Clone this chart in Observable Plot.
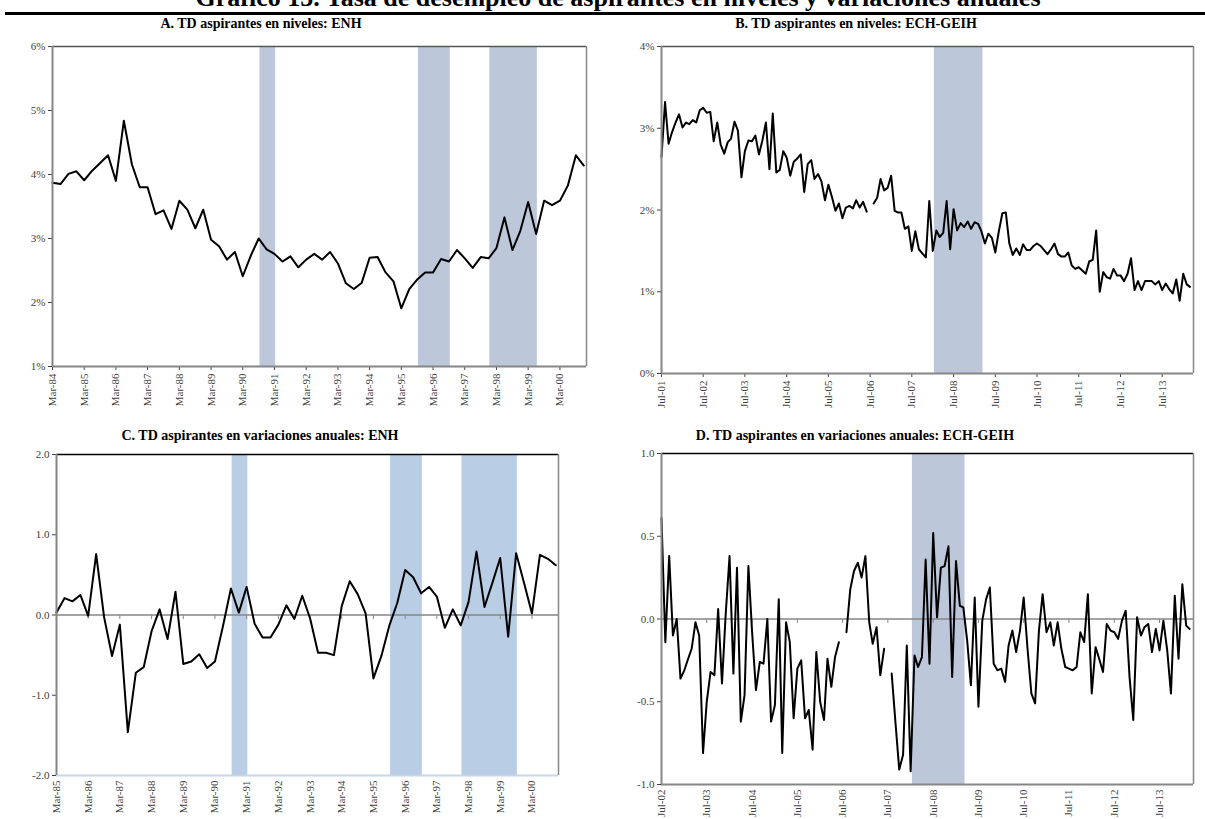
<!DOCTYPE html>
<html>
<head>
<meta charset="utf-8">
<script src="https://cdn.jsdelivr.net/npm/d3@7"></script>
<script src="https://cdn.jsdelivr.net/npm/@observablehq/plot@0.6"></script>
<style>
  body { margin: 0; background: #fff; }
  #page { position: relative; width: 1205px; height: 819px; overflow: hidden; background: #fff;
          font-family: "Liberation Serif", "Times New Roman", serif; }
  .ttl { position: absolute; font-weight: bold; font-size: 14px; line-height: 16px; white-space: nowrap;
         transform: translateX(-50%); color: #000; }
  .panel { position: absolute; }
</style>
</head>
<body>
<div id="page">
  <div class="ttl" style="left:618px; top:-15px; font-size:26px; line-height:26px;">Gráfico 15. Tasa de desempleo de aspirantes en niveles y variaciones anuales</div>
  <div style="position:absolute; left:5px; top:12px; width:1200px; height:3px; background:#000;"></div>
  <div class="ttl" style="left:261px; top:16px;">A. TD aspirantes en niveles: ENH</div>
  <div class="ttl" style="left:856px; top:16px;">B. TD aspirantes en niveles: ECH-GEIH</div>
  <div class="ttl" style="left:260px; top:428px;">C. TD aspirantes en variaciones anuales: ENH</div>
  <div class="ttl" style="left:855px; top:428px;">D. TD aspirantes en variaciones anuales: ECH-GEIH</div>
  <div class="panel" id="pA" style="left:0px; top:30px;"></div>
  <div class="panel" id="pB" style="left:600px; top:30px;"></div>
  <div class="panel" id="pC" style="left:0px; top:440px;"></div>
  <div class="panel" id="pD" style="left:600px; top:440px;"></div>
</div>
<script>
// ---------- ENH, quarterly (Mar, Jun, Sep, Dec), level in % ----------
const startENH = "Mar-84";
const levelsENH = [
  3.87, 3.85, 4.01, 4.05,
  3.91, 4.06, 4.18, 4.30,
  3.90, 4.84, 4.16, 3.80,
  3.80, 3.38, 3.44, 3.15,
  3.59, 3.45, 3.16, 3.45,
  2.98, 2.88, 2.67, 2.79,
  2.41, 2.73, 3.00, 2.83,
  2.76, 2.64, 2.72, 2.55,
  2.67, 2.76, 2.67, 2.79,
  2.61, 2.30, 2.21, 2.31,
  2.70, 2.71, 2.47, 2.33,
  1.91, 2.21, 2.36, 2.47,
  2.47, 2.68, 2.64, 2.82,
  2.69, 2.54, 2.71, 2.69,
  2.85, 3.33, 2.82, 3.12,
  3.57, 3.07, 3.59, 3.52,
  3.59, 3.83, 4.30, 4.14
];
const ticksA = ["Mar-84","Mar-85","Mar-86","Mar-87","Mar-88","Mar-89","Mar-90","Mar-91","Mar-92",
                "Mar-93","Mar-94","Mar-95","Mar-96","Mar-97","Mar-98","Mar-99","Mar-00"];

// ---------- ENH, quarterly annual change (percentage points) ----------
const startENHvar = "Mar-85";
const changesENH = [
  0.03, 0.21, 0.17, 0.25,
  -0.01, 0.76, -0.03, -0.51,
  -0.12, -1.46, -0.72, -0.65,
  -0.20, 0.07, -0.30, 0.29,
  -0.61, -0.58, -0.49, -0.66,
  -0.58, -0.14, 0.33, 0.03,
  0.35, -0.11, -0.28, -0.28,
  -0.12, 0.12, -0.05, 0.24,
  -0.04, -0.47, -0.47, -0.50,
  0.11, 0.42, 0.26, 0.02,
  -0.79, -0.51, -0.13, 0.15,
  0.56, 0.47, 0.27, 0.35,
  0.23, -0.16, 0.07, -0.13,
  0.16, 0.79, 0.10, 0.40,
  0.71, -0.27, 0.77, 0.40,
  0.02, 0.75, 0.70, 0.62
];
const ticksC = ["Mar-85","Mar-86","Mar-87","Mar-88","Mar-89","Mar-90","Mar-91","Mar-92",
                "Mar-93","Mar-94","Mar-95","Mar-96","Mar-97","Mar-98","Mar-99","Mar-00"];

// ---------- ECH-GEIH, monthly level in % (Jul-06 not available) ----------
const startGEIH = "Jul-01";
const levelsGEIH = [
  2.65, 3.32, 2.81, 2.95, 3.07, 3.17,
  3.01, 3.07, 3.05, 3.10, 3.07, 3.22, 3.25, 3.19, 3.20, 2.84, 3.07, 2.80,
  2.69, 2.83, 2.87, 3.08, 2.97, 2.40, 2.72, 2.85, 2.84, 2.91, 2.68, 2.85,
  3.07, 2.50, 3.18, 2.46, 2.49, 2.72, 2.64, 2.42, 2.59, 2.63, 2.68, 2.22,
  2.56, 2.61, 2.38, 2.44, 2.35, 2.12, 2.31, 2.16, 1.99, 2.08, 1.90, 2.03,
  2.05, 2.02, 2.12, 2.03, 2.10, 1.98, null, 2.08, 2.15, 2.38, 2.24, 2.27,
  2.42, 1.99, 1.97, 1.97, 1.77, 1.80, 1.50, 1.74, 1.52, 1.47, 1.42, 2.11,
  1.50, 1.75, 1.67, 1.72, 2.11, 1.52, 2.01, 1.75, 1.84, 1.79, 1.86, 1.77,
  1.85, 1.83, 1.74, 1.59, 1.71, 1.66, 1.48, 1.74, 1.96, 1.97, 1.59, 1.45,
  1.53, 1.45, 1.58, 1.51, 1.51, 1.56, 1.59, 1.56, 1.51, 1.46, 1.52, 1.59,
  1.46, 1.43, 1.43, 1.48, 1.32, 1.28, 1.30, 1.26, 1.22, 1.37, 1.39, 1.75,
  1.00, 1.24, 1.18, 1.16, 1.28, 1.20, 1.20, 1.13, 1.22, 1.41, 1.02, 1.13,
  1.02, 1.13, 1.13, 1.13, 1.09, 1.13, 1.02, 1.10, 1.03, 0.98, 1.15, 0.89,
  1.22, 1.09, 1.06
];
const ticksB = ["Jul-01","Jul-02","Jul-03","Jul-04","Jul-05","Jul-06","Jul-07",
                "Jul-08","Jul-09","Jul-10","Jul-11","Jul-12","Jul-13"];

// ---------- ECH-GEIH, monthly annual change (percentage points) ----------
const startGEIHvar = "Jul-02";
const changesGEIH = [
  0.61, -0.14, 0.38, -0.10, 0.00, -0.36,
  -0.31, -0.24, -0.18, -0.02, -0.10, -0.81, -0.50, -0.32, -0.34, 0.06, -0.39, 0.03,
  0.38, -0.33, 0.31, -0.62, -0.46, 0.32, -0.08, -0.43, -0.26, -0.27, 0.00, -0.62,
  -0.52, 0.12, -0.81, -0.02, -0.14, -0.60, -0.30, -0.25, -0.60, -0.55, -0.79, -0.20,
  -0.50, -0.61, -0.24, -0.41, -0.23, -0.14, null, -0.08, 0.18, 0.29, 0.34, 0.25,
  0.38, -0.02, -0.15, -0.05, -0.34, -0.18, null, -0.33, -0.63, -0.91, -0.82, -0.16,
  -0.92, -0.22, -0.29, -0.23, 0.36, -0.27, 0.52, 0.01, 0.31, 0.32, 0.44, -0.35,
  0.35, 0.08, 0.07, -0.13, -0.40, 0.13, -0.53, -0.01, 0.12, 0.19, -0.27, -0.31,
  -0.30, -0.38, -0.16, -0.07, -0.20, -0.07, 0.13, -0.18, -0.45, -0.51, -0.07, 0.15,
  -0.08, -0.02, -0.16, -0.02, -0.18, -0.29, -0.30, -0.31, -0.29, -0.08, -0.14, 0.15,
  -0.45, -0.17, -0.24, -0.32, -0.03, -0.07, -0.08, -0.12, -0.01, 0.05, -0.35, -0.61,
  0.01, -0.10, -0.05, -0.03, -0.20, -0.06, -0.19, -0.01, -0.19, -0.45, 0.14, -0.24,
  0.21, -0.04, -0.06
];
const ticksD = ["Jul-02","Jul-03","Jul-04","Jul-05","Jul-06","Jul-07",
                "Jul-08","Jul-09","Jul-10","Jul-11","Jul-12","Jul-13"];

// ---------- shaded recession periods ----------
const recessionsENH = [
  {start: "1990-09-15", end: "1991-03-15"},
  {start: "1995-09-15", end: "1996-09-15"},
  {start: "1997-12-15", end: "1999-06-15"}
];
const recessionsENHvar = [
  {start: "1990-09-15", end: "1991-03-15"},
  {start: "1995-09-15", end: "1996-09-15"},
  {start: "1997-12-15", end: "1999-09-15"}
];
const recessionsGEIH = [
  {start: "2008-01-15", end: "2009-03-15"}
];

// ---------- helpers ----------
const parseTick = d3.utcParse("%b-%y");
const fmtTick = d3.utcFormat("%b-%y");
const parseDay = d3.utcParse("%Y-%m-%d");

function series(start, stepMonths, values) {
  const t0 = parseTick(start);
  return values.map((v, i) => ({date: d3.utcMonth.offset(t0, stepMonths * i), value: v}));
}

// short downward tick drawn on the zero line
const downTick = { draw(ctx) { ctx.moveTo(0, 0); ctx.lineTo(0, 4); } };

const AXIS = "#868686";

function panel(cfg) {
  const [x0, x1] = cfg.xDomain;
  const [y0, y1] = cfg.yDomain;
  const tickDates = cfg.ticks.map(parseTick);
  const marks = [
    Plot.rect(cfg.bands, {x1: d => parseDay(d.start), x2: d => parseDay(d.end), y1: y0, y2: y1, fill: cfg.bandFill})
  ];
  if (cfg.zero) {
    marks.push(Plot.ruleY([0], {stroke: AXIS, strokeWidth: 1.3}));
    marks.push(Plot.dot(tickDates, {x: d => d, y: 0, symbol: downTick, stroke: AXIS, strokeWidth: 1}));
  }
  marks.push(Plot.lineY(cfg.data, {x: "date", y: "value", stroke: "#000", strokeWidth: 2}));
  marks.push(Plot.ruleY([y1], {stroke: cfg.topStroke, strokeWidth: 1.3}));
  marks.push(Plot.ruleX([x1], {stroke: AXIS, strokeWidth: 1.5}));
  marks.push(Plot.ruleY([y0], {stroke: cfg.bottomStroke, strokeWidth: 1.8}));
  marks.push(Plot.ruleX([x0], {stroke: AXIS, strokeWidth: 2}));
  return Plot.plot({
    width: cfg.width, height: cfg.height,
    marginLeft: cfg.m[0], marginRight: cfg.m[1], marginTop: cfg.m[2], marginBottom: cfg.m[3],
    style: {background: "transparent", fontFamily: "Liberation Serif, Times New Roman, serif",
            fontSize: "11px", color: "#404040", overflow: "visible"},
    x: {type: "utc", domain: [x0, x1], ticks: tickDates, tickFormat: fmtTick, tickRotate: -90,
        tickSize: cfg.zero ? 0 : 4, tickPadding: cfg.zero ? 5 : 3, label: null},
    y: {domain: [y0, y1], ticks: cfg.yTicks, tickFormat: cfg.yFormat, tickSize: 4, tickPadding: 3, label: null},
    marks
  });
}

const pct = d => d + "%";
const dec = d => d.toFixed(1);

document.getElementById("pA").appendChild(panel({
  width: 600, height: 400, m: [52, 14, 16, 64],
  xDomain: [parseTick("Mar-84"), parseDay("2001-01-01")],
  yDomain: [1, 6], yTicks: [1, 2, 3, 4, 5, 6], yFormat: pct,
  ticks: ticksA, data: series(startENH, 3, levelsENH),
  bands: recessionsENH, bandFill: "#bcc8da", topStroke: "#555", bottomStroke: AXIS
}));

document.getElementById("pB").appendChild(panel({
  width: 605, height: 400, m: [61, 12, 16, 57],
  xDomain: [parseTick("Jul-01"), parseDay("2014-04-01")],
  yDomain: [0, 4], yTicks: [0, 1, 2, 3, 4], yFormat: pct,
  ticks: ticksB, data: series(startGEIH, 1, levelsGEIH),
  bands: recessionsGEIH, bandFill: "#bcc8da", topStroke: "#555", bottomStroke: AXIS
}));

document.getElementById("pC").appendChild(panel({
  width: 600, height: 379, m: [56, 42, 14, 44],
  xDomain: [parseTick("Mar-85"), parseDay("2001-01-01")],
  yDomain: [-2, 2], yTicks: [-2, -1, 0, 1, 2], yFormat: dec, zero: true,
  ticks: ticksC, data: series(startENHvar, 3, changesENH),
  bands: recessionsENHvar, bandFill: "#b9cde5", topStroke: "#000", bottomStroke: "#c6d5e8"
}));

document.getElementById("pD").appendChild(panel({
  width: 605, height: 379, m: [61, 12, 13, 35],
  xDomain: [parseTick("Jul-02"), parseDay("2014-04-01")],
  yDomain: [-1, 1], yTicks: [-1, -0.5, 0, 0.5, 1], yFormat: dec, zero: true,
  ticks: ticksD, data: series(startGEIHvar, 1, changesGEIH),
  bands: recessionsGEIH, bandFill: "#bcc8da", topStroke: "#000", bottomStroke: AXIS
}));
</script>
</body>
</html>
